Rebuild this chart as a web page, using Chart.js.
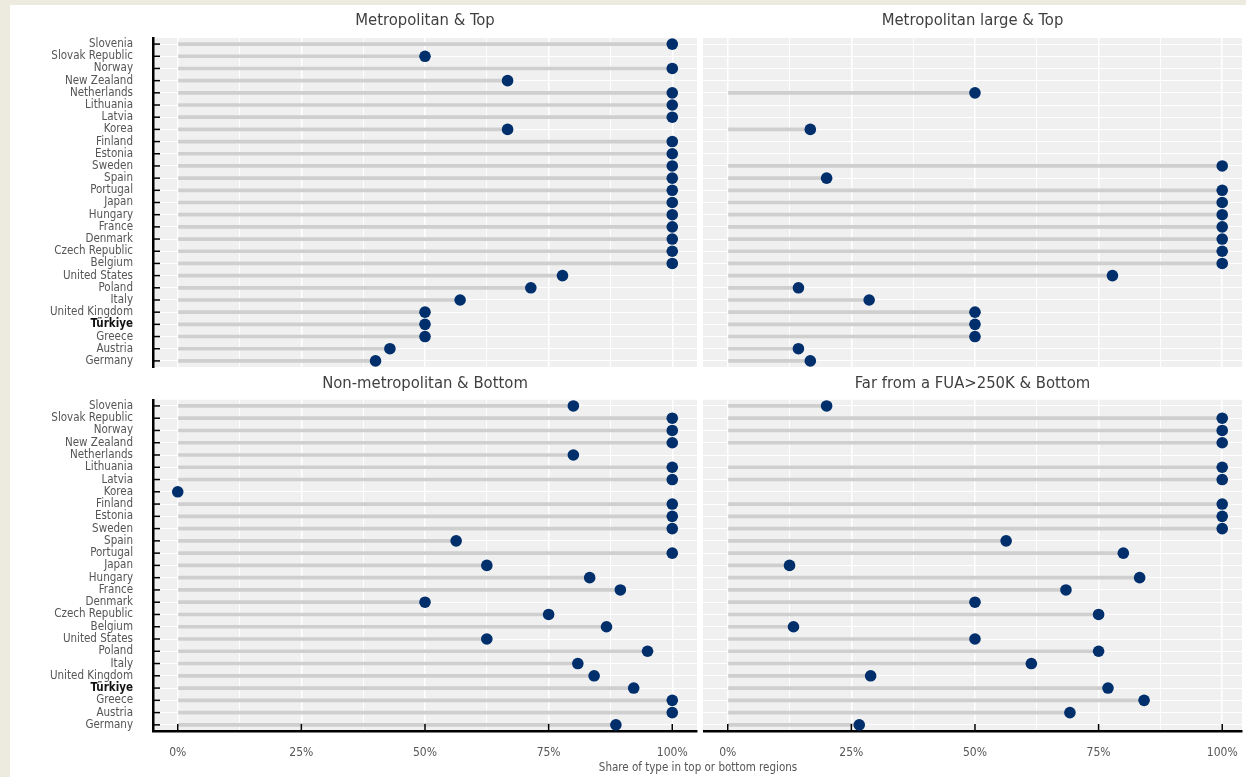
<!DOCTYPE html>
<html>
<head>
<meta charset="utf-8">
<title>Share of type in top or bottom regions</title>
<script src="https://cdn.jsdelivr.net/npm/chart.js@4.4.1/dist/chart.umd.min.js"></script>
<style>
  body { margin: 0; background: #edeae0; width: 1246px; height: 777px; overflow: hidden; }
  #sheet { position: absolute; left: 10px; top: 5px; right: 0; bottom: 0; background: #fff; }
  canvas { position: absolute; }
  #xtitle {
    position: absolute; left: 498px; width: 400px; top: 760px; text-align: center;
    font: 11.5px 'Liberation Sans Narrow', 'DejaVu Sans Condensed', sans-serif; color: #555;
  }
</style>
</head>
<body>
<div id="sheet"></div>
<canvas id="metroTop" width="692" height="365" style="left:10px; top:5px"></canvas>
<canvas id="metroLargeTop" width="543" height="365" style="left:703px; top:5px"></canvas>
<canvas id="nonMetroBottom" width="692" height="405" style="left:10px; top:372px"></canvas>
<canvas id="farBottom" width="543" height="405" style="left:703px; top:372px"></canvas>
<div id="xtitle">Share of type in top or bottom regions</div>
<script>
// countries, top to bottom
const countries = ['Slovenia', 'Slovak Republic', 'Norway', 'New Zealand', 'Netherlands', 'Lithuania', 'Latvia',
    'Korea', 'Finland', 'Estonia', 'Sweden', 'Spain', 'Portugal', 'Japan', 'Hungary', 'France', 'Denmark',
    'Czech Republic', 'Belgium', 'United States', 'Poland', 'Italy', 'United Kingdom', 'Türkiye', 'Greece',
    'Austria', 'Germany'];

// share of type in top or bottom regions (null = no region of that type)
const metroTop = [1, 0.5, 1, 0.667, 1, 1, 1, 0.667, 1, 1, 1, 1, 1, 1, 1, 1, 1, 1, 1,
    0.778, 0.714, 0.571, 0.5, 0.5, 0.5, 0.429, 0.4];
const metroLargeTop = [null, null, null, null, 0.5, null, null, 0.167, null, null, 1, 0.2, 1, 1, 1, 1, 1, 1, 1,
    0.778, 0.143, 0.286, 0.5, 0.5, 0.5, 0.143, 0.167];
const nonMetroBottom = [0.8, 1, 1, 1, 0.8, 1, 1, 0, 1, 1, 1, 0.563, 1, 0.625, 0.833, 0.895, 0.5, 0.75, 0.867,
    0.625, 0.95, 0.809, 0.842, 0.922, 1, 1, 0.886];
const farBottom = [0.2, 1, 1, 1, null, 1, 1, null, 1, 1, 1, 0.563, 0.8, 0.125, 0.833, 0.684, 0.5, 0.75, 0.133,
    0.5, 0.75, 0.614, 0.289, 0.769, 0.842, 0.692, 0.266];

// x grid: labelled at quarters, minor lines in between
const xGrid = [0, 0.125, 0.25, 0.375, 0.5, 0.625, 0.75, 0.875, 1];

const dotColor = '#002f6c';
const stemColor = '#cfcfcf';
const fontFamily = "'Liberation Sans Narrow', 'DejaVu Sans Condensed', sans-serif";

// grey panel behind the grid
const panelBg = {
    id: 'panelBg',
    beforeDraw(chart) {
        const { ctx, chartArea: a } = chart;
        ctx.save();
        ctx.fillStyle = '#f0f0f0';
        ctx.fillRect(a.left, a.top, a.width, a.height);
        ctx.restore();
    }
};

// ticks drawn inward from the axis lines
const inwardTicks = {
    id: 'inwardTicks',
    afterDatasetsDraw(chart, args, opts) {
        const { ctx, chartArea: a, scales: { x, y } } = chart;
        ctx.save();
        ctx.strokeStyle = '#000';
        ctx.lineWidth = 1.5;
        if (opts.y) {
            y.ticks.forEach((t, i) => {
                const py = y.getPixelForTick(i);
                ctx.beginPath();
                ctx.moveTo(a.left, py);
                ctx.lineTo(a.left + 7, py);
                ctx.stroke();
            });
        }
        if (opts.x) {
            x.ticks.forEach((t, i) => {
                if (t.value % 0.25 !== 0) return;
                const px = x.getPixelForTick(i);
                ctx.beginPath();
                ctx.moveTo(px, a.bottom);
                ctx.lineTo(px, a.bottom - 7);
                ctx.stroke();
            });
        }
        ctx.restore();
    }
};

function noPadding(s) {
    s.paddingLeft = 0;
    s.paddingRight = 0;
    s.paddingTop = 0;
    s.paddingBottom = 0;
}

function makePanel(id, title, values, left, bottom) {
    const ctx = document.getElementById(id).getContext('2d');
    return new Chart(ctx, {
        type: 'bar',
        data: {
            labels: countries,
            datasets: [{
                type: 'line',
                indexAxis: 'y',
                data: values,
                showLine: false,
                pointRadius: 5.8,
                pointHoverRadius: 5.8,
                pointBackgroundColor: dotColor,
                pointBorderWidth: 0,
                order: 0
            }, {
                type: 'bar',
                data: values.map(v => v === null ? null : [0, v]),
                backgroundColor: stemColor,
                barThickness: 3,
                order: 1
            }]
        },
        plugins: [panelBg, inwardTicks],
        options: {
            indexAxis: 'y',
            responsive: false,
            animation: false,
            events: [],
            layout: {
                autoPadding: false,
                padding: { left: 0, top: 0, right: left ? 5 : 4, bottom: bottom ? 0 : 3 }
            },
            plugins: {
                legend: { display: false },
                tooltip: { enabled: false },
                title: {
                    display: true,
                    text: title,
                    fullSize: false,
                    color: '#3f3f3f',
                    font: { family: fontFamily, size: 16.5, weight: 'normal' },
                    padding: bottom ? { top: 2, bottom: 6 } : { top: 5.5, bottom: 7.7 }
                },
                inwardTicks: { x: bottom, y: left }
            },
            scales: {
                x: {
                    type: 'linear',
                    min: -0.05,
                    max: left ? 1.05 : 1.04,
                    bounds: 'data',
                    afterBuildTicks: s => { s.ticks = xGrid.map(v => ({ value: v })); },
                    grid: {
                        color: '#ffffff',
                        lineWidth: c => (c.tick && c.tick.value % 0.25 === 0) ? 1.5 : 0.9,
                        drawTicks: false
                    },
                    border: { display: bottom, color: '#000', width: 2.5 },
                    ticks: {
                        display: bottom,
                        autoSkip: false,
                        maxRotation: 0,
                        padding: 15,
                        color: '#555',
                        font: { family: fontFamily, size: 12 },
                        callback: v => v % 0.25 === 0 ? Math.round(v * 100) + '%' : ''
                    },
                    afterFit: s => { noPadding(s); s.height = bottom ? 46 : 0; }
                },
                y: {
                    type: 'category',
                    grid: { color: '#ffffff', lineWidth: 1, offset: false, drawTicks: false },
                    border: { display: left, color: '#000', width: 2.5 },
                    ticks: {
                        display: left,
                        autoSkip: false,
                        padding: 20,
                        color: c => countries[c.index] === 'Türkiye' ? '#111' : '#555',
                        font: c => ({
                            family: fontFamily,
                            size: 11.5,
                            weight: countries[c.index] === 'Türkiye' ? 'bold' : 'normal'
                        })
                    },
                    afterFit: s => { noPadding(s); s.width = left ? 143 : 0; }
                }
            }
        }
    });
}

makePanel('metroTop', 'Metropolitan & Top', metroTop, true, false);
makePanel('metroLargeTop', 'Metropolitan large & Top', metroLargeTop, false, false);
makePanel('nonMetroBottom', 'Non-metropolitan & Bottom', nonMetroBottom, true, true);
makePanel('farBottom', 'Far from a FUA>250K & Bottom', farBottom, false, true);
</script>
</body>
</html>
